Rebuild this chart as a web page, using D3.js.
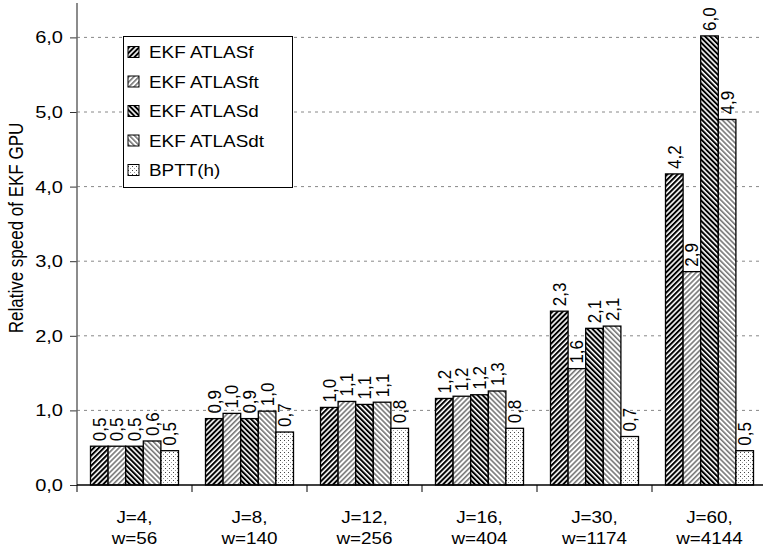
<!DOCTYPE html>
<html><head><meta charset="utf-8">
<script src="https://cdn.jsdelivr.net/npm/d3@7"></script>
<style>body{margin:0;background:#fff}svg{display:block;font-family:"Liberation Sans",Arial,sans-serif}</style>
</head><body><svg id="c" width="763" height="552"></svg>
<script>
const groups1 = ["J=4,","J=8,","J=12,","J=16,","J=30,","J=60,"];
const groups2 = ["w=56","w=140","w=256","w=404","w=1174","w=4144"];
const series = ["EKF ATLASf","EKF ATLASft","EKF ATLASd","EKF ATLASdt","BPTT(h)"];
const atlasF  = [0.52, 0.89, 1.04, 1.16, 2.33, 4.17];
const atlasFt = [0.52, 0.96, 1.12, 1.19, 1.56, 2.86];
const atlasD  = [0.52, 0.89, 1.08, 1.21, 2.10, 6.02];
const atlasDt = [0.59, 0.99, 1.11, 1.26, 2.13, 4.90];
const bptt    = [0.46, 0.71, 0.76, 0.76, 0.65, 0.46];
const yTicks = [0,1,2,3,4,5,6];
const values = [atlasF, atlasFt, atlasD, atlasDt, bptt];

const SX = 1.18; // horizontal stretch of the lettering
const fmt = v => d3.format(".1f")(v).replace(".",",");

const svg = d3.select("#c");
const defs = svg.append("defs");
function linePat(id, angle, color, w){
  const p = defs.append("pattern").attr("id",id).attr("patternUnits","userSpaceOnUse")
    .attr("width",3.6).attr("height",3.6).attr("patternTransform",`rotate(${angle})`);
  p.append("rect").attr("width",3.6).attr("height",3.6).attr("fill","#fff");
  p.append("rect").attr("width",w).attr("height",3.6).attr("fill",color);
}
linePat("p0", 45, "#000", 2.0);
linePat("p1", 45, "#777", 1.6);
linePat("p2", -45, "#000", 2.0);
linePat("p3", -45, "#777", 1.6);
{
  const p = defs.append("pattern").attr("id","p4").attr("patternUnits","userSpaceOnUse").attr("width",4).attr("height",4);
  p.append("rect").attr("width",4).attr("height",4).attr("fill","#fff");
  p.append("rect").attr("x",0).attr("y",0).attr("width",1).attr("height",1).attr("fill","#444");
  p.append("rect").attr("x",2).attr("y",2).attr("width",1).attr("height",1).attr("fill","#999");
}
const fills = ["url(#p0)","url(#p1)","url(#p2)","url(#p3)","url(#p4)"];

const y = d3.scaleLinear().domain([0,6]).range([485, 37.4]);
const x0 = d3.scaleBand().domain(d3.range(groups1.length)).range([77, 767]);
const x1 = d3.scaleBand().domain(d3.range(series.length)).range([13.5, 101.5]);

// gridlines
svg.append("g").selectAll("line").data(yTicks.filter(d=>d>0)).join("line")
  .attr("x1",77).attr("x2",760).attr("y1",d=>y(d)).attr("y2",d=>y(d))
  .attr("stroke","#888").attr("stroke-dasharray","3,4");

// bars
const gg = svg.append("g").selectAll("g").data(d3.range(groups1.length)).join("g")
  .attr("transform",i=>`translate(${x0(i)},0)`);
gg.selectAll("rect").data(i=>values.map((s,k)=>({k,v:s[i]}))).join("rect")
  .attr("x",d=>x1(d.k)).attr("width",x1.bandwidth()).attr("y",d=>y(d.v)).attr("height",d=>y(0)-y(d.v))
  .attr("fill",d=>fills[d.k]).attr("stroke","#000").attr("stroke-width",1.3);
gg.selectAll("text").data(i=>values.map((s,k)=>({k,v:s[i]}))).join("text")
  .attr("transform",d=>`translate(${x1(d.k)+x1.bandwidth()/2+6.5},${y(d.v)-5}) scale(1.08,1) rotate(-90)`)
  .attr("font-size",17).attr("fill","#000")
  .text(d=>fmt(d.v));

// y axis ticks
const ya = svg.append("g").attr("transform","translate(77,0)")
  .call(d3.axisLeft(y).tickValues(yTicks).tickSize(7).tickFormat(""));
ya.select(".domain").remove();
ya.selectAll("line").attr("stroke","#333");
svg.append("g").selectAll("text").data(yTicks).join("text")
  .attr("transform",d=>`translate(63,${y(d)+6}) scale(${SX},1)`)
  .attr("text-anchor","end").attr("font-size",17).attr("fill","#000").text(fmt);
svg.append("line").attr("x1",77).attr("x2",77).attr("y1",3).attr("y2",485).attr("stroke","#666").attr("stroke-width",1.5);

// x axis
svg.append("line").attr("x1",77).attr("x2",763).attr("y1",485).attr("y2",485).attr("stroke","#000").attr("stroke-width",1.3);
svg.append("g").selectAll("line").data(d3.range(groups1.length+1)).join("line")
  .attr("x1",i=>i<groups1.length?x0(i):x0(i-1)+x0.bandwidth()).attr("x2",i=>i<groups1.length?x0(i):x0(i-1)+x0.bandwidth())
  .attr("y1",485).attr("y2",492).attr("stroke","#000");
const xg = svg.append("g").selectAll("g").data(d3.range(groups1.length)).join("g")
  .attr("transform",i=>`translate(${x0(i)+x0.bandwidth()/2},0) scale(${SX},1)`);
xg.append("text").attr("y",523).attr("text-anchor","middle").attr("font-size",16).attr("fill","#000").text(i=>groups1[i]);
xg.append("text").attr("y",544).attr("text-anchor","middle").attr("font-size",16).attr("fill","#000").text(i=>groups2[i]);

// y label
svg.append("text").attr("transform",`translate(23,228) scale(${SX},1) rotate(-90)`).attr("text-anchor","middle")
  .attr("font-size",17).attr("fill","#000").text("Relative speed of EKF GPU");

// legend
const lg = svg.append("g");
lg.append("rect").attr("x",123.5).attr("y",36.5).attr("width",169).attr("height",151).attr("fill","#fff").attr("stroke","#000");
const li = lg.selectAll("g").data(series).join("g").attr("transform",(d,i)=>`translate(128,${52+i*29.5})`);
li.append("rect").attr("x",0).attr("y",-5.5).attr("width",11).attr("height",11).attr("fill",(d,i)=>fills[i]).attr("stroke","#000");
li.append("text").attr("transform",`translate(21,6) scale(${SX},1)`).attr("font-size",16).attr("fill","#000").text(d=>d);
</script></body></html>
